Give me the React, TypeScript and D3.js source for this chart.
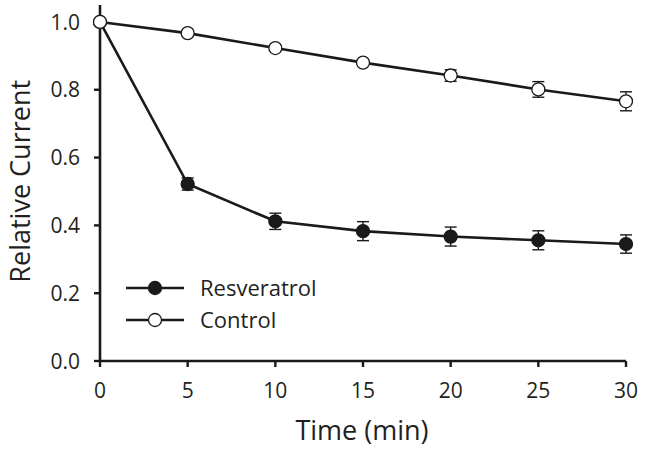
import React from 'react'
import * as d3 from 'd3'

const times = [0, 5, 10, 15, 20, 25, 30]
const resveratrol = [1.0, 0.522, 0.412, 0.383, 0.367, 0.356, 0.345]
const resveratrolErr = [0.004, 0.018, 0.024, 0.028, 0.028, 0.028, 0.027]
const control = [1.0, 0.967, 0.923, 0.88, 0.842, 0.801, 0.766]
const controlErr = [0.004, 0.005, 0.006, 0.008, 0.017, 0.023, 0.028]
const yTicks = [0, 0.2, 0.4, 0.6, 0.8, 1.0]
const seriesNames = ['Resveratrol', 'Control']

const W = 646
const H = 449
const FONT = "'Open Sans', 'Noto Sans', sans-serif"

export default function App() {
  const x = d3.scaleLinear().domain([0, 30]).range([100, 626])
  const y = d3.scaleLinear().domain([0, 1.05]).range([361, 5])

  const line = d3.line<number>()
    .x((_, i) => x(times[i]))
    .y(d => y(d))

  const series = [
    { name: seriesNames[0], values: resveratrol, err: resveratrolErr, fill: '#1a1a1a' },
    { name: seriesNames[1], values: control, err: controlErr, fill: '#ffffff' },
  ]

  const stroke = '#1a1a1a'
  const ink = '#231f20'

  return (
    <svg width={W} height={H} style={{ position: 'absolute', left: 0, top: 0, background: '#fff' }}>
      {/* axes */}
      <line x1={x(0)} x2={x(0)} y1={y(1.05)} y2={y(0)} stroke={stroke} strokeWidth={2.6} />
      <line x1={x(0)} x2={x(30)} y1={y(0)} y2={y(0)} stroke={stroke} strokeWidth={2.6} />
      {yTicks.map(t => (
        <g key={t}>
          <line x1={x(0) - 6} x2={x(0)} y1={y(t)} y2={y(t)} stroke={stroke} strokeWidth={2.4} />
          <text x={80} y={y(t)} dy="0.36em" textAnchor="end" fontSize={21} fontFamily={FONT} fill={ink}>
            {t.toFixed(1)}
          </text>
        </g>
      ))}
      {times.map(t => (
        <g key={t}>
          <line x1={x(t)} x2={x(t)} y1={y(0)} y2={y(0) + 6} stroke={stroke} strokeWidth={2.4} />
          <text x={x(t)} y={398} textAnchor="middle" fontSize={21} fontFamily={FONT} fill={ink}>
            {t}
          </text>
        </g>
      ))}
      <text x={362} y={440} textAnchor="middle" fontSize={27} fontFamily={FONT} fill={ink}>Time (min)</text>
      <text transform={`translate(30,${y(0.53)}) rotate(-90)`} textAnchor="middle" fontSize={27} fontFamily={FONT} fill={ink}>
        Relative Current
      </text>

      {/* series */}
      {series.map(s => (
        <g key={s.name}>
          <path d={line(s.values) ?? ''} fill="none" stroke={stroke} strokeWidth={2.6} />
          {s.values.map((v, i) => {
            const cx = x(times[i])
            return (
              <g key={i}>
                <line x1={cx} x2={cx} y1={y(v - s.err[i])} y2={y(v + s.err[i])} stroke={stroke} strokeWidth={1.4} />
                <line x1={cx - 6} x2={cx + 6} y1={y(v - s.err[i])} y2={y(v - s.err[i])} stroke={stroke} strokeWidth={1.4} />
                <line x1={cx - 6} x2={cx + 6} y1={y(v + s.err[i])} y2={y(v + s.err[i])} stroke={stroke} strokeWidth={1.4} />
                <circle cx={cx} cy={y(v)} r={6.5} fill={s.fill} stroke={stroke} strokeWidth={1.3} />
              </g>
            )
          })}
        </g>
      ))}

      {/* legend */}
      {series.map((s, i) => {
        const ly = 288 + i * 32
        return (
          <g key={s.name}>
            <line x1={126} x2={184} y1={ly} y2={ly} stroke={stroke} strokeWidth={2.6} />
            <circle cx={155} cy={ly} r={6.5} fill={s.fill} stroke={stroke} strokeWidth={1.3} />
            <text x={200} y={ly} dy="0.36em" fontSize={22} fontFamily={FONT} fill={ink}>{s.name}</text>
          </g>
        )
      })}
    </svg>
  )
}
